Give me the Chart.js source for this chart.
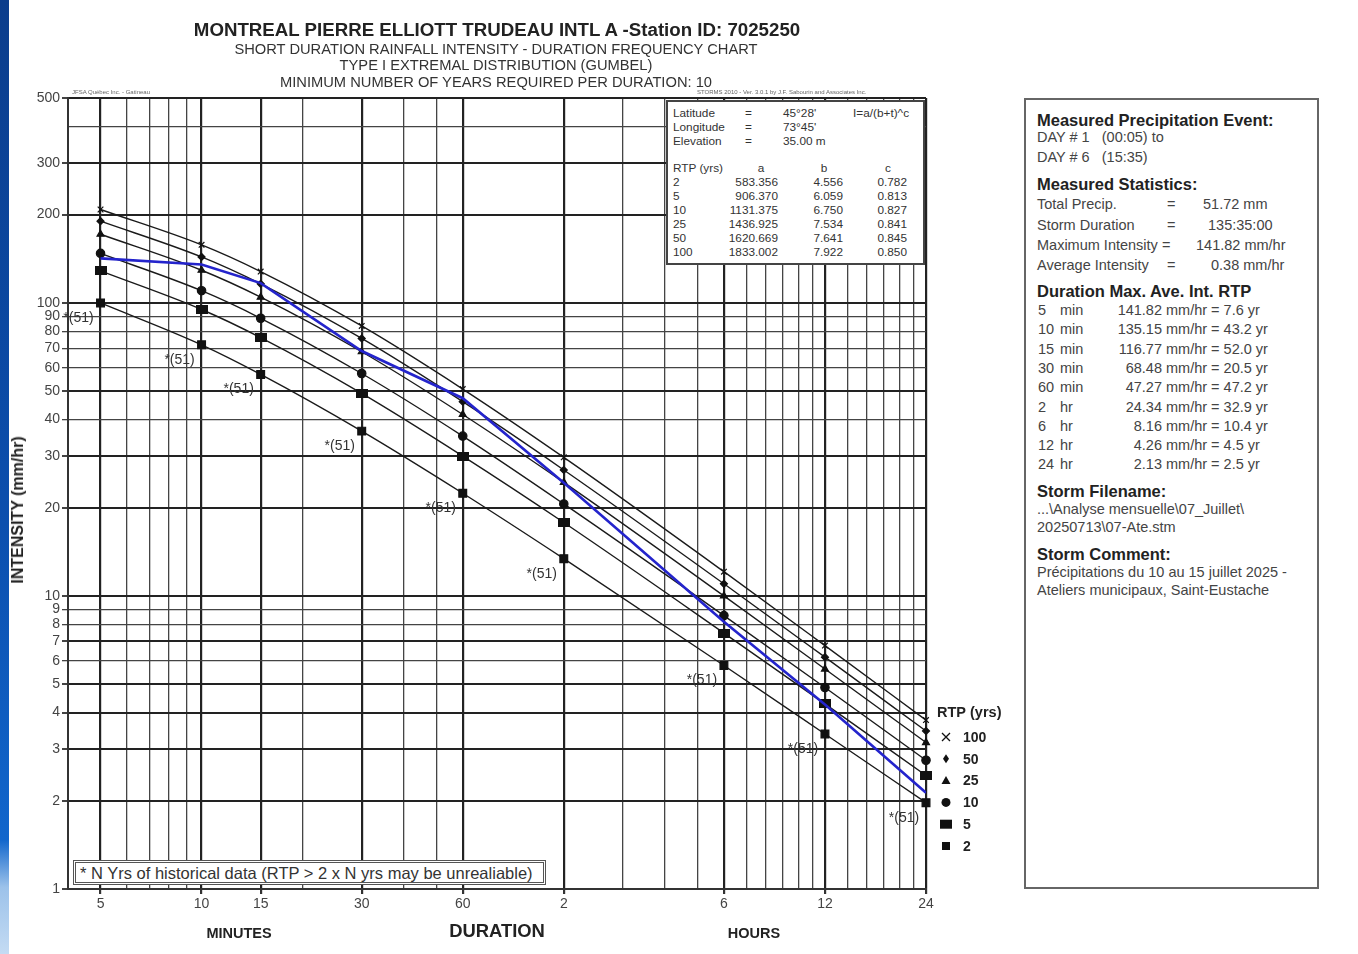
<!DOCTYPE html>
<html><head><meta charset="utf-8">
<script src="https://cdn.jsdelivr.net/npm/chart.js@4"></script>
<style>
body{margin:0;background:#fff;font-family:"Liberation Sans",Arial,sans-serif;}
#wrap{position:relative;width:1358px;height:954px;overflow:hidden;background:#fff;}
canvas{position:absolute;left:0;top:0;}
.t{position:absolute;white-space:nowrap;line-height:1;color:#333;}
.b{font-weight:bold;}
.c{transform:translateX(-50%);}
#strip{position:absolute;left:0;top:0;width:9px;height:954px;background:linear-gradient(to bottom,#0b3d8c 0%,#0c4fae 55%,#1166cc 88%,#9cc2ea 93%,#c4dbf3 100%);}
#info{position:absolute;left:666px;top:100px;width:259px;height:165px;background:#fff;border:2px solid #444;box-sizing:border-box;}
#info .t{font-size:11.8px;color:#333;}
#foot{position:absolute;left:73px;top:860px;width:473px;height:25px;background:#fff;border:3px double #555;box-sizing:border-box;}
#panel{position:absolute;left:1024px;top:98px;width:295px;height:791px;border:2px solid #666;box-sizing:border-box;background:#fff;}
.h{font-size:16.5px;font-weight:bold;color:#222;}
.n{font-size:14.5px;color:#444;}
</style></head><body>
<div id="wrap">
<div id="strip"></div>
<canvas id="c" width="1358" height="954"></canvas>

<div class="t b c" style="left:497px;top:21px;font-size:18.7px;color:#222;">MONTREAL PIERRE ELLIOTT TRUDEAU INTL A -Station ID: 7025250</div>
<div class="t c" style="left:496px;top:42px;font-size:14.7px;">SHORT DURATION RAINFALL INTENSITY - DURATION FREQUENCY CHART</div>
<div class="t c" style="left:496px;top:58px;font-size:14.7px;">TYPE I EXTREMAL DISTRIBUTION (GUMBEL)</div>
<div class="t c" style="left:496px;top:75px;font-size:14.7px;">MINIMUM NUMBER OF YEARS REQUIRED PER DURATION: 10</div>
<div class="t" style="left:72px;top:89px;font-size:6px;color:#666;">JFSA Québec Inc. - Gatineau</div>
<div class="t" style="left:697px;top:89px;font-size:6px;color:#666;">STORMS 2010 - Ver. 3.0.1 by J.F. Sabourin and Associates Inc.</div>

<div id="info">
 <div class="t" style="left:5px;top:6px;">Latitude</div><div class="t" style="left:77px;top:6px;">=</div><div class="t" style="left:115px;top:6px;">45°28'</div><div class="t" style="left:185px;top:6px;">I=a/(b+t)^c</div>
 <div class="t" style="left:5px;top:20px;">Longitude</div><div class="t" style="left:77px;top:20px;">=</div><div class="t" style="left:115px;top:20px;">73°45'</div>
 <div class="t" style="left:5px;top:34px;">Elevation</div><div class="t" style="left:77px;top:34px;">=</div><div class="t" style="left:115px;top:34px;">35.00 m</div>
 <div id="tbl"></div>
</div>

<div id="foot"><div class="t" style="left:4px;top:2px;font-size:16.5px;color:#333;">* N Yrs of historical data (RTP &gt; 2 x N yrs may be unrealiable)</div></div>

<div class="t b" style="left:18px;top:510px;font-size:16px;color:#222;transform:translate(-50%,-50%) rotate(-90deg);">INTENSITY (mm/hr)</div>
<div class="t b c" style="left:239px;top:926px;font-size:14.5px;color:#222;">MINUTES</div>
<div class="t b c" style="left:497px;top:922px;font-size:18.4px;color:#222;">DURATION</div>
<div class="t b c" style="left:754px;top:926px;font-size:14.5px;color:#222;">HOURS</div>

<div id="panel"></div>
</div>
<script>
// ---- data ----
const durations = [5, 10, 15, 30, 60, 120, 360, 720, 1440]; // minutes
const rtpYears = ['2', '5', '10', '25', '50', '100'];
const rtp2   = [99.9, 71.9, 57.0, 36.5, 22.4, 13.4, 5.79, 3.38, 1.97];
const rtp5   = [128.5, 94.9, 76.1, 49.1, 30.0, 17.8, 7.47, 4.28, 2.44];
const rtp10  = [147.5, 110.0, 88.6, 57.4, 35.1, 20.6, 8.57, 4.87, 2.75];
const rtp25  = [171.4, 129.2, 104.6, 68.1, 41.6, 24.4, 10.0, 5.63, 3.16];
const rtp50  = [190.0, 143.4, 116.1, 75.6, 46.0, 26.9, 11.0, 6.18, 3.46];
const rtp100 = [208.2, 157.7, 127.9, 83.4, 50.8, 29.7, 12.1, 6.77, 3.77];
const measured = [141.82, 135.15, 116.77, 68.48, 47.27, 24.34, 8.16, 4.26, 2.13];
const nYearsLabel = '*(51)';

const yTickValues = [1,2,3,4,5,6,7,8,9,10,20,30,40,50,60,70,80,90,100,200,300,400,500];
const yTickLabels = ['1','2','3','4','5','6','7','8','9','10','20','30','40','50','60','70','80','90','100','200','300','','500'];
const xTickValues = [5,6,7,8,9,10,15,20,30,40,50,60,120,180,240,300,360,420,480,540,600,660,720,840,960,1080,1200,1320,1440];
const xTickLabels = ['5','','','','','10','15','','30','','','60','2','','','','6','','','','','','12','','','','','','24'];

const coefA = ['583.356','906.370','1131.375','1436.925','1620.669','1833.002'];
const coefB = ['4.556','6.059','6.750','7.534','7.641','7.922'];
const coefC = ['0.782','0.813','0.827','0.841','0.845','0.850'];

const durLabels = [['5','min'],['10','min'],['15','min'],['30','min'],['60','min'],['2','hr'],['6','hr'],['12','hr'],['24','hr']];
const durIntensity = ['141.82','135.15','116.77','68.48','47.27','24.34','8.16','4.26','2.13'];
const durRtp = ['7.6','43.2','52.0','20.5','47.2','32.9','10.4','4.5','2.5'];

// ---- info table ----
(function(){
  const t = document.getElementById('tbl');
  let h = '<div class="t" style="left:5px;top:61px;">RTP (yrs)</div><div class="t c" style="left:93px;top:61px;">a</div><div class="t c" style="left:156px;top:61px;">b</div><div class="t c" style="left:220px;top:61px;">c</div>';
  rtpYears.forEach((r,i)=>{
    const top = 75 + i*14;
    h += `<div class="t" style="left:5px;top:${top}px;">${r}</div>`;
    h += `<div class="t" style="right:145px;top:${top}px;">${coefA[i]}</div>`;
    h += `<div class="t" style="right:80px;top:${top}px;">${coefB[i]}</div>`;
    h += `<div class="t" style="right:16px;top:${top}px;">${coefC[i]}</div>`;
  });
  t.innerHTML = h;
})();

// ---- right panel ----
(function(){
  const p = document.getElementById('panel');
  const L = 11, T = -100;
  const hd = (y,txt) => `<div class="t h" style="left:${L}px;top:${y+T-9}px;">${txt}</div>`;
  const row = (x,y,txt) => `<div class="t n" style="left:${x}px;top:${y+T-8}px;">${txt}</div>`;
  let h = '';
  h += hd(121,'Measured Precipitation Event:');
  h += row(L,138,'DAY # 1&nbsp;&nbsp;&nbsp;(00:05) to');
  h += row(L,158,'DAY # 6&nbsp;&nbsp;&nbsp;(15:35)');
  h += hd(185,'Measured Statistics:');
  h += row(L,205,'Total Precip.') + row(141,205,'=') + row(177,205,'51.72 mm');
  h += row(L,226,'Storm Duration') + row(141,226,'=') + row(182,226,'135:35:00');
  h += row(L,246,'Maximum Intensity =') + row(170,246,'141.82 mm/hr');
  h += row(L,266,'Average Intensity') + row(141,266,'=') + row(185,266,'0.38 mm/hr');
  h += hd(292,'Duration Max. Ave. Int. RTP');
  durLabels.forEach((d,i)=>{
    const y = 311 + i*19.3;
    h += row(12,y,d[0]) + row(34,y,d[1]);
    h += `<div class="t n" style="left:60px;width:76px;text-align:right;top:${y+T-8}px;">${durIntensity[i]}</div>`;
    h += row(140,y,'mm/hr = ' + durRtp[i] + ' yr');
  });
  h += hd(492,'Storm Filename:');
  h += row(L,510,'...\\Analyse mensuelle\\07_Juillet\\');
  h += row(L,528,'20250713\\07-Ate.stm');
  h += hd(555,'Storm Comment:');
  h += row(L,573,'Précipitations du 10 au 15 juillet 2025 -');
  h += row(L,591,'Ateliers municipaux, Saint-Eustache');
  p.innerHTML = h;
})();

// ---- marker shapes ----
function makeWideRect(){
  const c = document.createElement('canvas'); c.width = 12; c.height = 9;
  const g = c.getContext('2d'); g.fillStyle = '#111'; g.fillRect(0,0,12,9); return c;
}
const wideRect = makeWideRect();

function drawMarker(ctx, kind, x, y){
  ctx.save(); ctx.fillStyle = '#111'; ctx.strokeStyle = '#111'; ctx.lineWidth = 1.3;
  ctx.beginPath();
  if (kind === '100'){ ctx.moveTo(x-4,y-4); ctx.lineTo(x+4,y+4); ctx.moveTo(x+4,y-4); ctx.lineTo(x-4,y+4); ctx.stroke(); }
  else if (kind === '50'){ ctx.moveTo(x,y-4.5); ctx.lineTo(x+3,y); ctx.lineTo(x,y+4.5); ctx.lineTo(x-3,y); ctx.closePath(); ctx.fill(); }
  else if (kind === '25'){ ctx.moveTo(x,y-4.5); ctx.lineTo(x+4.5,y+3.5); ctx.lineTo(x-4.5,y+3.5); ctx.closePath(); ctx.fill(); }
  else if (kind === '10'){ ctx.arc(x,y,4.5,0,Math.PI*2); ctx.fill(); }
  else if (kind === '5'){ ctx.fillRect(x-6,y-4.5,12,9); }
  else { ctx.fillRect(x-4,y-4,8,8); }
  ctx.restore();
}

const annot = {
  id: 'annot',
  afterDatasetsDraw(chart){
    const {ctx, scales:{x, y}, chartArea} = chart;
    ctx.save();
    ctx.font = '14px "Liberation Sans", Arial';
    ctx.fillStyle = '#333'; ctx.textAlign = 'center'; ctx.textBaseline = 'middle';
    durations.forEach((d,i)=>{
      ctx.fillText(nYearsLabel, x.getPixelForValue(d) - 22, y.getPixelForValue(rtp2[i]) + 15);
    });
    // legend
    const lx = chartArea.right + 11;
    ctx.textAlign = 'left'; ctx.fillStyle = '#222';
    ctx.font = 'bold 14.5px "Liberation Sans", Arial';
    ctx.fillText('RTP (yrs)', lx, 713);
    ctx.font = 'bold 14px "Liberation Sans", Arial';
    const order = ['100','50','25','10','5','2'];
    order.forEach((k,i)=>{
      const yy = 737 + i*21.8;
      drawMarker(ctx, k, lx + 9, yy);
      ctx.fillStyle = '#222';
      ctx.fillText(k, lx + 26, yy + 1);
    });
    ctx.restore();
  }
};

const toPts = arr => durations.map((d,i)=>({x:d, y:arr[i]}));
const curve = (arr, style, radius, order) => ({
  data: toPts(arr), borderColor:'#1a1a1a', borderWidth:1.4, pointStyle:style, pointRadius:radius,
  pointBackgroundColor:'#111', pointBorderColor:'#111', pointBorderWidth:1.2, tension:0.25,
  cubicInterpolationMode:'monotone', fill:false, order, clip:false
});

const thickX = [5,10,15,30,60,120,360,720,1440];
const thickY = [1,2,3,4,5,7,10,20,30,50,100,200,300,500];

new Chart(document.getElementById('c'), {
  type: 'line',
  data: { datasets: [
    { data: toPts(measured), borderColor:'#2424cc', borderWidth:2.6, pointRadius:0, tension:0, fill:false, order:0 },
    curve(rtp100, 'crossRot', 4, 1),
    curve(rtp50, 'rectRot', 3.5, 2),
    curve(rtp25, 'triangle', 4, 3),
    curve(rtp10, 'circle', 4.2, 4),
    curve(rtp5, wideRect, 5, 5),
    curve(rtp2, 'rect', 5.5, 6)
  ]},
  options: {
    responsive:false, animation:false, devicePixelRatio:1,
    layout:{ padding:{ left:0, top:98, right:432, bottom:0 } },
    plugins:{ legend:{display:false}, tooltip:{enabled:false}, title:{display:false} },
    scales:{
      x:{ type:'logarithmic', min:4, max:1440,
        afterBuildTicks: s => { s.ticks = xTickValues.map(v=>({value:v})); },
        afterFit: s => { s.height = 65; },
        ticks:{ autoSkip:false, maxRotation:0, minRotation:0, padding:2, color:'#444',
          font:{family:'"Liberation Sans", Arial', size:14},
          callback:(v,i)=> xTickLabels[i] },
        grid:{ color: c => thickX.includes(c.tick && c.tick.value) ? '#222' : '#444',
          lineWidth: c => thickX.includes(c.tick && c.tick.value) ? 2.2 : 1.3,
          tickLength:5, tickColor: c => thickX.includes(c.tick && c.tick.value) ? '#333' : 'rgba(0,0,0,0)' },
        border:{ display:true, color:'#333', width:2 }
      },
      y:{ type:'logarithmic', min:1, max:500,
        afterBuildTicks: s => { s.ticks = yTickValues.map(v=>({value:v})); },
        afterFit: s => { s.width = 68; },
        ticks:{ autoSkip:false, padding:2, color:'#444',
          font:{family:'"Liberation Sans", Arial', size:14},
          callback:(v,i)=> yTickLabels[i] },
        grid:{ color: c => thickY.includes(c.tick && c.tick.value) ? '#222' : '#444',
          lineWidth: c => thickY.includes(c.tick && c.tick.value) ? 2 : 1.3,
          tickLength:6, tickColor: c => (c.tick && c.tick.value === 400) ? 'rgba(0,0,0,0)' : '#444' },
        border:{ display:true, color:'#333', width:2 }
      }
    }
  },
  plugins:[annot]
});
</script>
</body></html>
